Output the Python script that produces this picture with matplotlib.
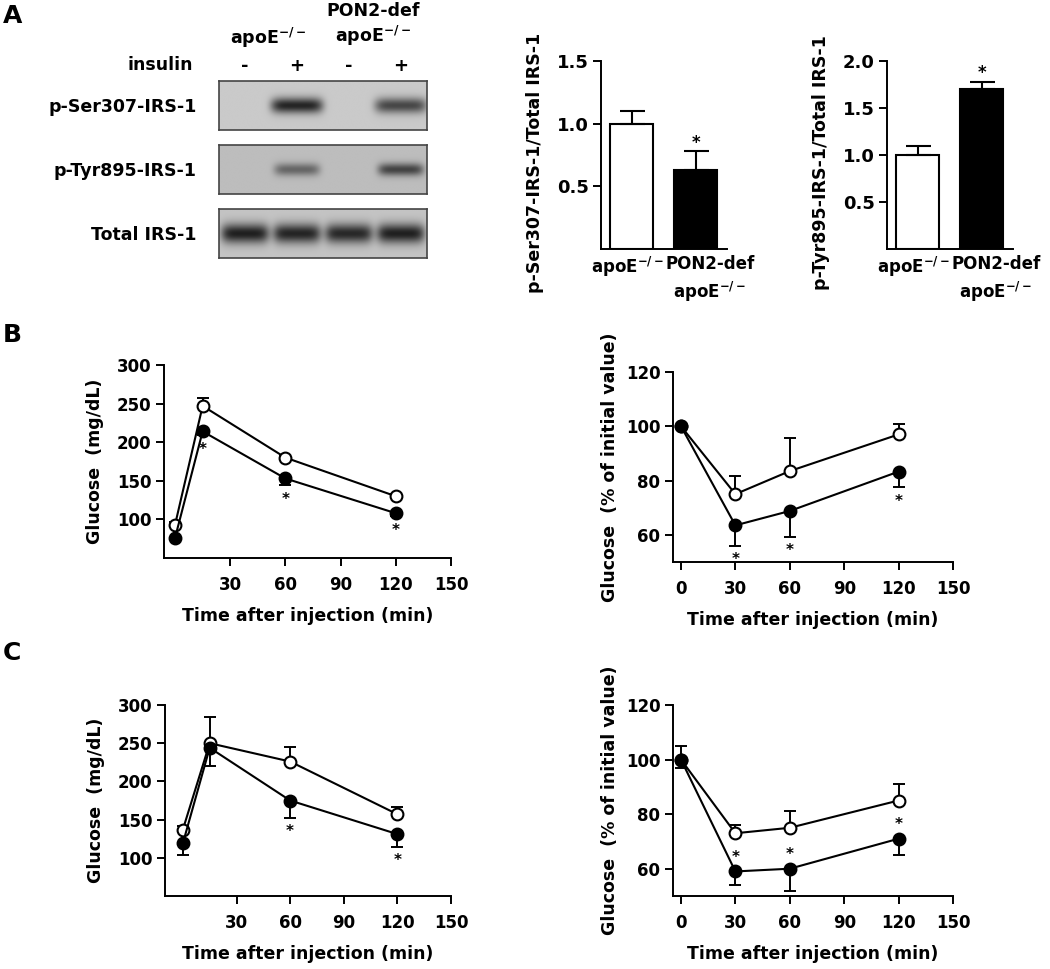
import numpy as np
import matplotlib
matplotlib.use('Agg')
import matplotlib.pyplot as plt
import matplotlib.transforms as mtransforms

plt.rcParams['font.family'] = ['DejaVu Sans']
plt.rcParams['font.weight'] = 'bold'
plt.rcParams['axes.labelweight'] = 'bold'
plt.rcParams['mathtext.fontset'] = 'dejavusans'
plt.rcParams['mathtext.default'] = 'bf'
plt.rcParams['axes.linewidth'] = 1.4

# --- panel A: blot ---
blot_rows = ['p-Ser307-IRS-1', 'p-Tyr895-IRS-1', 'Total IRS-1']
insulin = ['-', '+', '-', '+']
band_level = [[0.0, 0.95, 0.0, 0.75],
              [0.0, 0.5, 0.0, 0.7],
              [0.95, 0.92, 0.9, 0.95]]

# --- panel A: bars ---
bar_groups = ['apoE$^{-/-}$', 'PON2-def\napoE$^{-/-}$']
ser307_mean = [1.0, 0.63]
ser307_sem = [0.1, 0.15]
tyr895_mean = [1.0, 1.7]
tyr895_sem = [0.1, 0.08]

# --- panel B ---
b_time = [0, 15, 60, 120]
b_wt = [93, 247, 180, 130]
b_wt_err = [3, 10, 3, 3]
b_ko = [76, 214, 153, 108]
b_ko_err = [3, 5, 9, 4]
b_star = [1, 2, 3]

b_rel_time = [0, 30, 60, 120]
b_rel_wt = [100, 75, 83.5, 97]
b_rel_wt_err = [0, 6.5, 12, 4]
b_rel_ko = [100, 63.5, 68.8, 83.3]
b_rel_ko_err = [0, 7.5, 9.5, 5.8]
b_rel_star = [1, 2, 3]

# --- panel C ---
c_time = [0, 15, 60, 120]
c_wt = [137, 250, 226, 157]
c_wt_err = [4, 34, 19, 10]
c_ko = [119, 244, 175, 131]
c_ko_err = [15, 24, 23, 17]
c_star = [2, 3]

c_rel_time = [0, 30, 60, 120]
c_rel_wt = [100, 73, 75, 85]
c_rel_wt_err = [5, 3, 6, 6]
c_rel_ko = [100, 59, 60, 71]
c_rel_ko_err = [3, 5, 8, 6]
c_rel_star = [1, 2, 3]

W, H = 1050, 969
fig = plt.figure(figsize=(W / 100, H / 100), dpi=100)


def box(l, t, r, b):
    return [l / W, 1 - b / H, (r - l) / W, (b - t) / H]


def clean(ax):
    ax.spines['top'].set_visible(False)
    ax.spines['right'].set_visible(False)
    ax.tick_params(direction='out', length=6, width=1.4)
    ax.tick_params(axis='y', pad=3)
    ax.tick_params(axis='x', pad=7)


# blot boxes
bg = [0.79, 0.74, 0.77]
sig_y = [0.16, 0.13, 0.2]
band_w = [0.5, 0.44, 0.46]
blot_top = [81, 145, 209]
for r, name in enumerate(blot_rows):
    ax = fig.add_axes(box(219, blot_top[r], 427, blot_top[r] + 49))
    xs = np.linspace(-0.5, 3.5, 400)
    ys = np.linspace(-0.5, 0.5, 100)
    X, Y = np.meshgrid(xs, ys)
    img = np.full(X.shape, bg[r])
    for lane, lev in enumerate(band_level[r]):
        prof = np.exp(-((X - lane) / band_w[r]) ** 6) * np.exp(-(Y / sig_y[r]) ** 2)
        img -= lev * 0.68 * prof
    ax.imshow(img, cmap='gray', vmin=0, vmax=1, extent=(-0.5, 3.5, 0.5, -0.5),
              aspect='auto', interpolation='bilinear')
    for s in ax.spines.values():
        s.set_color('#444444')
        s.set_linewidth(1.2)
    ax.set_yticks([0])
    ax.set_yticklabels([name], fontsize=12.5)
    ax.tick_params(axis='y', length=0, pad=16)
    if r == 0:
        ax.set_xticks(range(4))
        ax.set_xticklabels(insulin, fontsize=13)
        ax.xaxis.tick_top()
        ax.tick_params(axis='x', length=0, pad=4)
    else:
        ax.set_xticks([])

fig.text(193 / W, 1 - 65 / H, 'insulin', ha='right', va='center', fontsize=12.5)
fig.text(268 / W, 1 - 38 / H, 'apoE$^{-/-}$', ha='center', va='center', fontsize=12.5)
fig.text(373 / W, 1 - 11 / H, 'PON2-def', ha='center', va='center', fontsize=12.5)
fig.text(373 / W, 1 - 36 / H, 'apoE$^{-/-}$', ha='center', va='center', fontsize=12.5)

fig.text(3 / W, 1 - 16 / H, 'A', ha='left', va='center', fontsize=18)
fig.text(3 / W, 1 - 335 / H, 'B', ha='left', va='center', fontsize=18)
fig.text(3 / W, 1 - 653 / H, 'C', ha='left', va='center', fontsize=18)


def bar_panel(rect, mean, sem, ymax, yticks, ylabel):
    ax = fig.add_axes(rect)
    x = np.arange(len(mean))
    ax.bar(x, mean, width=0.67, color=['white', 'black'], edgecolor='black', linewidth=1.5)
    ax.errorbar(x, mean, yerr=[np.zeros(len(sem)), sem], fmt='none', ecolor='black',
                elinewidth=1.5, capsize=9, capthick=1.5)
    ax.annotate('*', xy=(1, mean[1] + sem[1]), xytext=(0, 6), textcoords='offset points',
                ha='center', va='center', fontsize=12)
    ax.set_xlim(-0.48, 1.49)
    ax.set_ylim(0, ymax)
    ax.set_yticks(yticks)
    ax.set_yticklabels(['%.1f' % v for v in yticks], fontsize=13)
    ax.set_xticks(x)
    ax.set_xticklabels(bar_groups, fontsize=12, linespacing=1.4)
    clean(ax)
    ax.tick_params(axis='x', length=0, pad=4)
    # second group label sits a bit right of its bar, as in the source
    lab = ax.get_xticklabels()[1]
    lab.set_transform(lab.get_transform() +
                      mtransforms.ScaledTranslation(14 / 100, 0, fig.dpi_scale_trans))
    lab0 = ax.get_xticklabels()[0]
    lab0.set_transform(lab0.get_transform() +
                       mtransforms.ScaledTranslation(-4 / 100, 0, fig.dpi_scale_trans))
    ax.set_ylabel(ylabel, fontsize=12.5, labelpad=9)
    ax.yaxis.label.set_y(0.46)


bar_panel(box(601, 61, 727, 249), ser307_mean, ser307_sem, 1.5, [0.5, 1.0, 1.5],
          'p-Ser307-IRS-1/Total IRS-1')
bar_panel(box(887, 61, 1013, 249), tyr895_mean, tyr895_sem, 2.0, [0.5, 1.0, 1.5, 2.0],
          'p-Tyr895-IRS-1/Total IRS-1')


def line_panel(rect, t, wt, wt_err, ko, ko_err, star_idx, star_above, xmin, ylim,
               yticks, xticks, ylabel, ylpad):
    ax = fig.add_axes(rect)
    ax.errorbar(t, wt, yerr=[np.zeros(len(wt_err)), wt_err], fmt='none', ecolor='black',
                elinewidth=1.4, capsize=4.5, capthick=1.4, zorder=2)
    ax.errorbar(t, ko, yerr=[ko_err, np.zeros(len(ko_err))], fmt='none', ecolor='black',
                elinewidth=1.4, capsize=4.5, capthick=1.4, zorder=2)
    ax.plot(t, wt, '-o', color='black', lw=1.5, ms=8.5, mfc='white', mec='black', mew=1.5,
            zorder=3, clip_on=False)
    ax.plot(t, ko, '-o', color='black', lw=1.5, ms=8.5, mfc='black', mec='black', mew=1.5,
            zorder=4, clip_on=False)
    for i in star_idx:
        if star_above:
            ax.annotate('*', xy=(t[i], ko[i]), xytext=(0, 10), textcoords='offset points',
                        ha='center', va='center', fontsize=11)
        else:
            ax.annotate('*', xy=(t[i], ko[i] - ko_err[i]), xytext=(0, -10),
                        textcoords='offset points', ha='center', va='center', fontsize=11)
    ax.set_xlim(xmin, 150)
    ax.set_ylim(*ylim)
    ax.set_xticks(xticks)
    ax.set_yticks(yticks)
    ax.tick_params(labelsize=12)
    clean(ax)
    ax.set_xlabel('Time after injection (min)', fontsize=12.5, labelpad=9)
    ax.set_ylabel(ylabel, fontsize=12.5, labelpad=ylpad)


line_panel(box(164, 365, 451, 558), b_time, b_wt, b_wt_err, b_ko, b_ko_err, b_star, False,
           -6, (50, 300), [100, 150, 200, 250, 300], [30, 60, 90, 120, 150],
           'Glucose  (mg/dL)', 9)
line_panel(box(673, 372, 953, 562), b_rel_time, b_rel_wt, b_rel_wt_err, b_rel_ko, b_rel_ko_err,
           b_rel_star, False, -4.4, (50, 120), [60, 80, 100, 120], [0, 30, 60, 90, 120, 150],
           'Glucose  (% of initial value)', 5)
line_panel(box(165, 705, 451, 896), c_time, c_wt, c_wt_err, c_ko, c_ko_err, c_star, False,
           -10, (50, 300), [100, 150, 200, 250, 300], [30, 60, 90, 120, 150],
           'Glucose  (mg/dL)', 9)
line_panel(box(673, 705, 953, 896), c_rel_time, c_rel_wt, c_rel_wt_err, c_rel_ko, c_rel_ko_err,
           c_rel_star, True, -4.4, (50, 120), [60, 80, 100, 120], [0, 30, 60, 90, 120, 150],
           'Glucose  (% of initial value)', 5)

fig.savefig('out.png', dpi=100)
